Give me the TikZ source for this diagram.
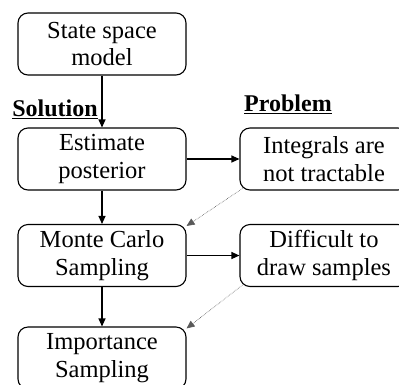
\documentclass[tikz,border=0pt]{standalone}
\usepackage{fontspec}
\setmainfont{Liberation Serif}
\usetikzlibrary{positioning, arrows.meta}

\tikzset{
  stepbox/.style={draw, line width=1.1pt, rounded corners=10pt, minimum width=168pt,
    minimum height=62pt, align=center, inner sep=2pt,
    font=\fontsize{24.5}{27.5}\selectfont},
  heading/.style={font=\fontsize{24}{27}\selectfont\bfseries, inner sep=0pt},
  flow/.style={-{Triangle[length=8pt, width=7pt]}, line width=1.1pt},
  hint/.style={-{Triangle[length=8pt, width=7pt]}, densely dotted, gray!70!black, semithick}
}

\begin{document}
\begin{tikzpicture}[x=1pt, y=-1pt]
  \useasboundingbox (0,0) rectangle (399,384);

  % --- left column ---
  \node[stepbox] (ssm) at (102, 44) {State space\\model};
  \node[stepbox] (post) at (102, 159) {Estimate\\posterior};
  \node[stepbox] (mc) at (102, 255.5) {Monte Carlo\\Sampling};
  \node[stepbox] (imp) at (102, 358) {Importance\\Sampling};

  % --- right column ---
  \node[stepbox] (integ) at (324, 159) {Integrals are\\not tractable};
  \node[stepbox] (diff) at (324, 255.5) {Difficult to\\draw samples};

  % --- headings ---
  \node[heading] (sol) at (55, 109) {\underline{Solution}};
  \node[heading] (prob) at (288, 104) {\underline{Problem}};

  % --- connectors ---
  \draw[flow] (ssm) -- (post);
  \draw[flow] (post) -- (mc);
  \draw[flow] (mc) -- (imp);
  \draw[flow] (post) -- (integ);
  \draw[flow] (mc) -- (diff);
  \draw[hint] ([shift={(3pt,2pt)}]integ.south west) -- ([shift={(0pt,-2pt)}]mc.north east);
  \draw[hint] ([shift={(3pt,2pt)}]diff.south west) -- ([shift={(0pt,-2pt)}]imp.north east);
\end{tikzpicture}
\end{document}
